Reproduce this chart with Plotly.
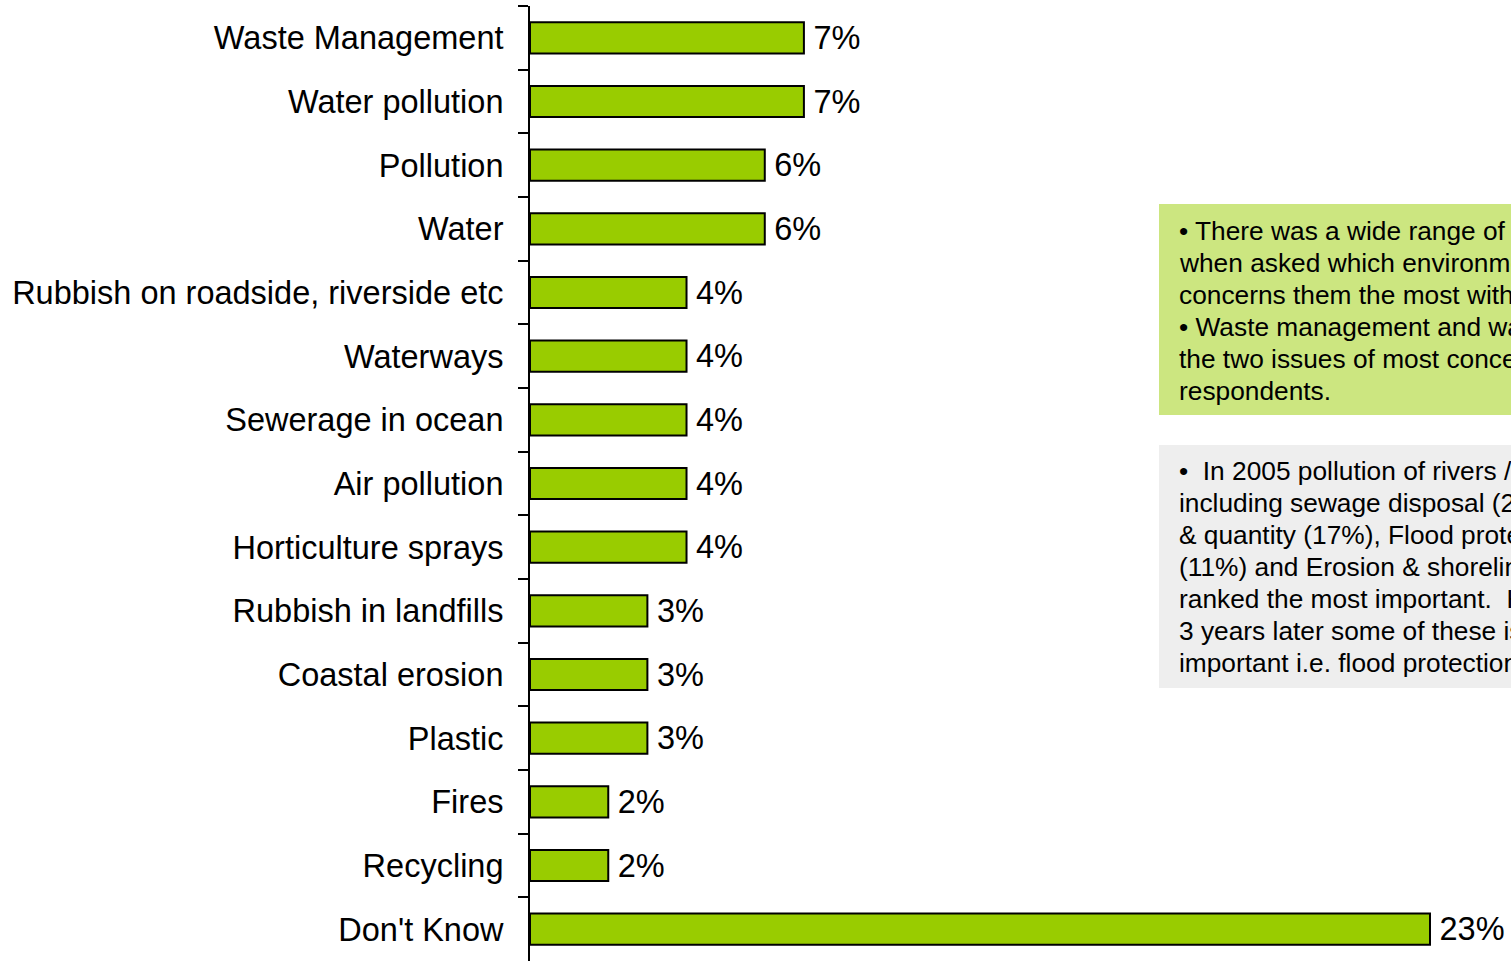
import plotly.graph_objects as go

categories = ["Waste Management", "Water pollution", "Pollution", "Water",
              "Rubbish on roadside, riverside etc", "Waterways", "Sewerage in ocean",
              "Air pollution", "Horticulture sprays", "Rubbish in landfills",
              "Coastal erosion", "Plastic", "Fires", "Recycling", "Don't Know"]
values = [7, 7, 6, 6, 4, 4, 4, 4, 4, 3, 3, 3, 2, 2, 23]
labels = [f"\u2009{v}%" for v in values]

note1 = ["• There was a wide range of responses",
         "when asked which environmental issue",
         "concerns them the most within",
         "• Waste management and water were",
         "the two issues of most concern to",
         "respondents."]
note2 = ["•  In 2005 pollution of rivers / lakes",
         "including sewage disposal (27%), Water quality",
         "& quantity (17%), Flood protection",
         "(11%) and Erosion & shoreline",
         "ranked the most important.  However",
         "3 years later some of these issues are less",
         "important i.e. flood protection"]

W, H = 1511, 961
ML, MR, MT, MB = 530, 0, 6, 0
PW, PH = W - ML - MR, H - MT - MB
FONT = "Arial, Liberation Sans, sans-serif"


def px(x):
    return (x - ML) / PW


def py(y):
    return (H - MB - y) / PH


fig = go.Figure(go.Bar(
    x=values, y=categories, orientation="h",
    marker=dict(color="#99CC00", line=dict(color="black", width=2)),
    text=labels, textposition="outside", cliponaxis=False, constraintext="none",
    textfont=dict(family=FONT, size=32.5, color="black"),
    width=0.49, hoverinfo="skip",
))

shapes = [
    dict(type="rect", xref="paper", yref="paper", x0=px(1159), x1=px(1540),
         y0=py(415), y1=py(204), fillcolor="#CCE680", line=dict(width=0)),
    dict(type="rect", xref="paper", yref="paper", x0=px(1159), x1=px(1540),
         y0=py(688), y1=py(445), fillcolor="#EEEEEE", line=dict(width=0)),
]
annotations = []
for i, t in enumerate(note1):
    annotations.append(dict(text=t, xref="paper", yref="paper", x=px(1177), y=py(231 + 32 * i),
                            xanchor="left", yanchor="middle", showarrow=False,
                            font=dict(family=FONT, size=26.3, color="black")))
for i, t in enumerate(note2):
    annotations.append(dict(text=t, xref="paper", yref="paper", x=px(1177), y=py(471 + 32 * i),
                            xanchor="left", yanchor="middle", showarrow=False,
                            font=dict(family=FONT, size=26.3, color="black")))

fig.update_layout(
    width=W, height=H,
    margin=dict(l=ML, r=MR, t=MT, b=MB, pad=0),
    paper_bgcolor="white", plot_bgcolor="white",
    showlegend=False,
    shapes=shapes, annotations=annotations,
    xaxis=dict(range=[0, PW / (900 / 23)], visible=False, fixedrange=True),
    yaxis=dict(categoryorder="array", categoryarray=categories, autorange="reversed",
               showline=True, linecolor="black", linewidth=2,
               ticks="outside", tickson="boundaries", ticklen=10, tickwidth=1.5, tickcolor="black",
               ticklabelstandoff=18, showgrid=False, zeroline=False, fixedrange=True,
               tickfont=dict(family=FONT, size=32.5, color="black")),
)

fig.write_html("out.html", config={"displayModeBar": False},
               post_script="document.body.style.margin='0';document.body.style.overflow='hidden';")
